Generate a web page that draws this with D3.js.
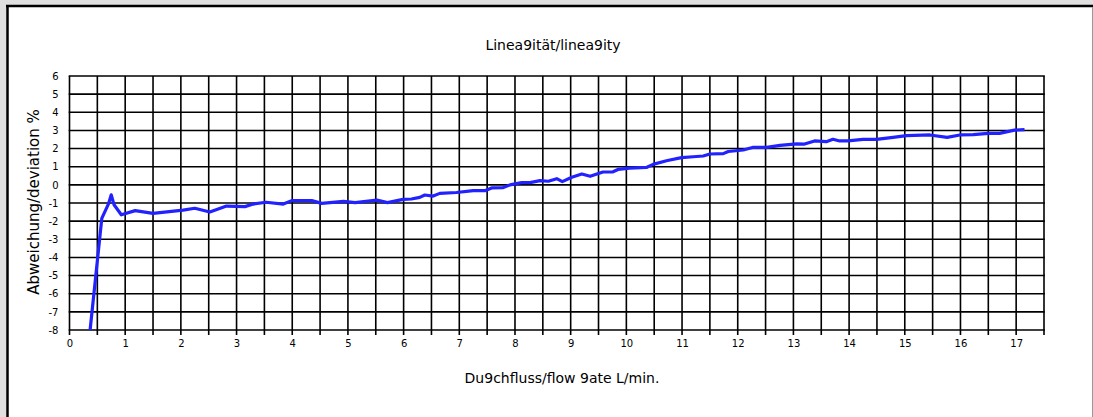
<!DOCTYPE html>
<html>
<head>
<meta charset="utf-8">
<script src="https://cdn.jsdelivr.net/npm/d3@7"></script>
<style>
  body { margin: 0; background: #e0e0e0; }
  svg { display: block; }
  text { font-family: "DejaVu Sans", sans-serif; fill: #000; }
</style>
</head>
<body>
<script>
// flow rate L/min (x) and deviation % (y)
var flow = [0.37, 0.58, 0.70, 0.75, 0.80, 0.93, 1.18, 1.50, 2.04, 2.25, 2.52, 2.82, 3.15, 3.30,
  3.53, 3.84, 3.99, 4.35, 4.53, 4.92, 5.13, 5.52, 5.71, 5.99, 6.14, 6.29, 6.38, 6.53, 6.65,
  6.95, 7.25, 7.46, 7.58, 7.79, 7.91, 8.12, 8.27, 8.45, 8.60, 8.75, 8.85, 9.02, 9.20, 9.35,
  9.58, 9.76, 9.85, 10.06, 10.36, 10.48, 10.72, 10.99, 11.20, 11.38, 11.50, 11.74, 11.83,
  12.10, 12.28, 12.52, 12.76, 13.06, 13.20, 13.38, 13.59, 13.71, 13.83, 13.98, 14.25, 14.49,
  14.79, 15.03, 15.45, 15.76, 15.99, 16.23, 16.50, 16.70, 16.97, 17.15];
var deviation = [-8.0, -1.85, -1.05, -0.55, -1.1, -1.65, -1.42, -1.57, -1.39, -1.29, -1.5, -1.17, -1.2, -1.06,
  -0.96, -1.06, -0.87, -0.87, -1.02, -0.91, -0.98, -0.84, -0.98, -0.80, -0.78, -0.69, -0.56, -0.62, -0.47,
  -0.42, -0.32, -0.32, -0.17, -0.15, 0.0, 0.12, 0.12, 0.23, 0.20, 0.34, 0.18, 0.42, 0.60, 0.47,
  0.71, 0.72, 0.85, 0.92, 0.96, 1.13, 1.33, 1.50, 1.55, 1.59, 1.70, 1.72, 1.84,
  1.92, 2.07, 2.07, 2.18, 2.26, 2.25, 2.42, 2.38, 2.51, 2.42, 2.42, 2.51, 2.51,
  2.62, 2.71, 2.75, 2.62, 2.75, 2.77, 2.84, 2.84, 3.02, 3.04];
var xTicks = d3.range(0, 18);
var yTicks = d3.range(-8, 7);

var title = "Linea9ität/linea9ity",
  xTitle = "Du9chfluss/flow 9ate L/min.",
  yTitle = "Abweichung/deviation %";

var W = 1093, H = 417;
var mLeft = 69.5, mRight = 1044, mTop = 76, mBottom = 330;

var x = d3.scaleLinear().domain([0, 17.5]).range([mLeft, mRight]);
var y = d3.scaleLinear().domain([-8, 6]).range([mBottom, mTop]);

var svg = d3.select('body').append('svg')
  .attr('width', W)
  .attr('height', H);

// white panel with dark top/left edge
svg.append('rect')
  .attr('x', 7.5).attr('y', 6)
  .attr('width', 1085).attr('height', H)
  .attr('fill', '#fff');
svg.append('line').attr('x1', 6).attr('x2', 1093).attr('y1', 6).attr('y2', 6)
  .attr('stroke', '#000').attr('stroke-width', 2.5);
svg.append('line').attr('x1', 7.5).attr('x2', 7.5).attr('y1', 5).attr('y2', H)
  .attr('stroke', '#000').attr('stroke-width', 2.5);
svg.append('line').attr('x1', 1092.5).attr('x2', 1092.5).attr('y1', 7).attr('y2', H)
  .attr('stroke', '#999').attr('stroke-width', 1);

// grid
var grid = svg.append('g').attr('stroke', '#000').attr('stroke-width', 1.6);
grid.selectAll('.v').data(d3.range(0, 18, 0.5)).enter().append('line')
  .attr('x1', function(d) { return x(d); })
  .attr('x2', function(d) { return x(d); })
  .attr('y1', mTop).attr('y2', mBottom + 5);
grid.selectAll('.h').data(yTicks).enter().append('line')
  .attr('x1', mLeft - 0.8).attr('x2', mRight + 0.8)
  .attr('y1', function(d) { return y(d); })
  .attr('y2', function(d) { return y(d); });

// axes (labels only, grid drawn above); plain hyphen for negatives
var fmt = function(d) { return String(d); };
var xAxis = svg.append('g')
  .attr('transform', 'translate(0,' + (mBottom + 6) + ')')
  .call(d3.axisBottom(x).tickValues(xTicks).tickFormat(fmt).tickSize(0).tickPadding(4));
var yAxis = svg.append('g')
  .attr('transform', 'translate(' + (mLeft - 6) + ',0)')
  .call(d3.axisLeft(y).tickValues(yTicks).tickFormat(fmt).tickSize(0).tickPadding(5));
[xAxis, yAxis].forEach(function(a) {
  a.select('.domain').remove();
  a.selectAll('text').style('font-family', '"DejaVu Sans", sans-serif').style('font-size', '10px');
});

// data line
var pts = d3.zip(flow, deviation);
svg.append('path')
  .datum(pts)
  .attr('fill', 'none')
  .attr('stroke', '#2222ff')
  .attr('stroke-width', 3.2)
  .attr('stroke-linejoin', 'round')
  .attr('d', d3.line()
    .x(function(d) { return x(d[0]); })
    .y(function(d) { return y(d[1]); }));

// titles
svg.append('text')
  .attr('x', 553).attr('y', 50)
  .attr('text-anchor', 'middle')
  .style('font-size', '14px')
  .text(title);
svg.append('text')
  .attr('x', 562).attr('y', 383)
  .attr('text-anchor', 'middle')
  .style('font-size', '14px')
  .text(xTitle);
svg.append('text')
  .attr('transform', 'translate(39,202) rotate(-90)')
  .attr('text-anchor', 'middle')
  .style('font-size', '15px')
  .text(yTitle);
</script>
</body>
</html>
